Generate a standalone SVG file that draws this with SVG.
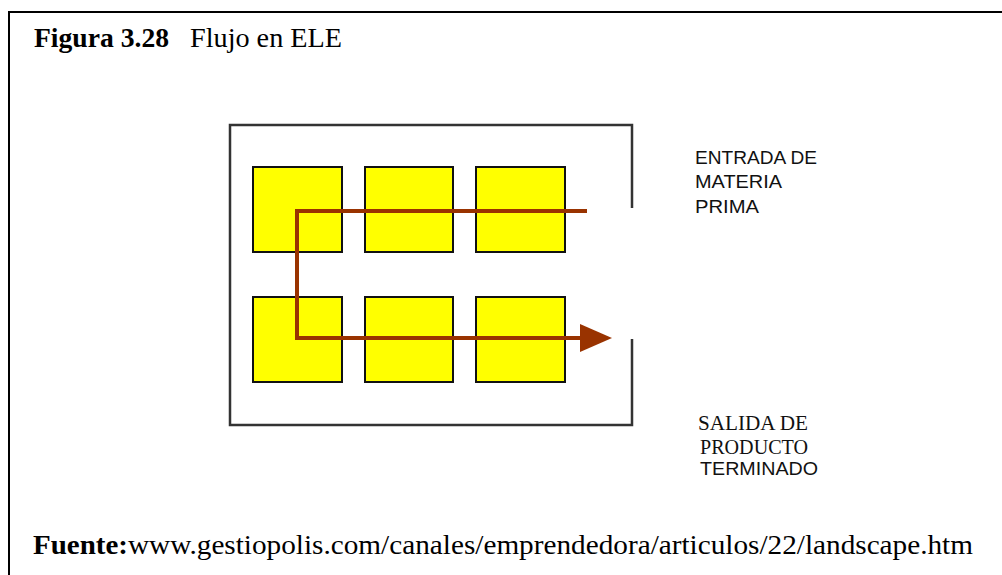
<svg xmlns="http://www.w3.org/2000/svg" width="1002" height="575" viewBox="0 0 1002 575">
<style>
.frame{fill:none;stroke:#000;stroke-width:2}
.plant{fill:none;stroke:#333;stroke-width:2.5}
.st{fill:#ffff00;stroke:#111;stroke-width:2}
.flow{fill:none;stroke:#993300;stroke-width:4;stroke-linejoin:miter}
.ser{font-family:"Liberation Serif","Times New Roman",serif;fill:#000}
.lab{font-family:"Liberation Sans",Arial,sans-serif;fill:#111;font-size:19px}
.lab2{font-family:"Liberation Serif","Times New Roman",serif;fill:#111;font-size:22px}
</style>
<defs>
<marker id="arr" markerWidth="8" markerHeight="7" refX="0" refY="3.5" orient="auto" markerUnits="strokeWidth">
<path d="M0,0 L8,3.5 L0,7 Z" fill="#993300"/>
</marker>
</defs>
<rect width="1002" height="575" fill="#fff"/>
<g id="frame">
<path class="frame" d="M9,575 L9,12 L1002,12"/>
</g>
<g id="title">
<text class="ser" x="34" y="47" font-size="28" font-weight="bold" textLength="135" lengthAdjust="spacingAndGlyphs">Figura 3.28</text>
<text class="ser" x="190" y="47" font-size="28" textLength="152" lengthAdjust="spacingAndGlyphs">Flujo en ELE</text>
</g>
<g id="plant">
<path class="plant" d="M632,208 L632,125 L230,125 L230,425 L632,425 L632,339"/>
</g>
<g id="st1"><rect class="st" x="253" y="167" width="89" height="85"/></g>
<g id="st2"><rect class="st" x="365" y="167" width="88" height="85"/></g>
<g id="st3"><rect class="st" x="476" y="167" width="89" height="85"/></g>
<g id="st4"><rect class="st" x="253" y="297" width="89" height="85"/></g>
<g id="st5"><rect class="st" x="365" y="297" width="88" height="85"/></g>
<g id="st6"><rect class="st" x="476" y="297" width="89" height="85"/></g>
<g id="connectors">
<path class="flow" d="M587,211 L297,211 L297,338 L580,338" marker-end="url(#arr)"/>
</g>
<g id="entrada">
<text class="lab" x="695" y="164" textLength="122" lengthAdjust="spacingAndGlyphs">ENTRADA DE</text>
<text class="lab" x="695" y="188" textLength="87" lengthAdjust="spacingAndGlyphs">MATERIA</text>
<text class="lab" x="695" y="213" textLength="64" lengthAdjust="spacingAndGlyphs">PRIMA</text>
</g>
<g id="salida">
<text class="lab2" x="698" y="430" textLength="110" lengthAdjust="spacingAndGlyphs">SALIDA DE</text>
<text class="lab2" x="700" y="454" textLength="108" lengthAdjust="spacingAndGlyphs">PRODUCTO</text>
<text class="lab" x="700" y="475" font-size="20" textLength="118" lengthAdjust="spacingAndGlyphs">TERMINADO</text>
</g>
<g id="source">
<text class="ser" x="33" y="554" font-size="27" font-weight="bold" textLength="95" lengthAdjust="spacingAndGlyphs">Fuente:</text>
<text class="ser" x="128" y="554" font-size="27" textLength="845" lengthAdjust="spacingAndGlyphs">www.gestiopolis.com/canales/emprendedora/articulos/22/landscape.htm</text>
</g>
</svg>
